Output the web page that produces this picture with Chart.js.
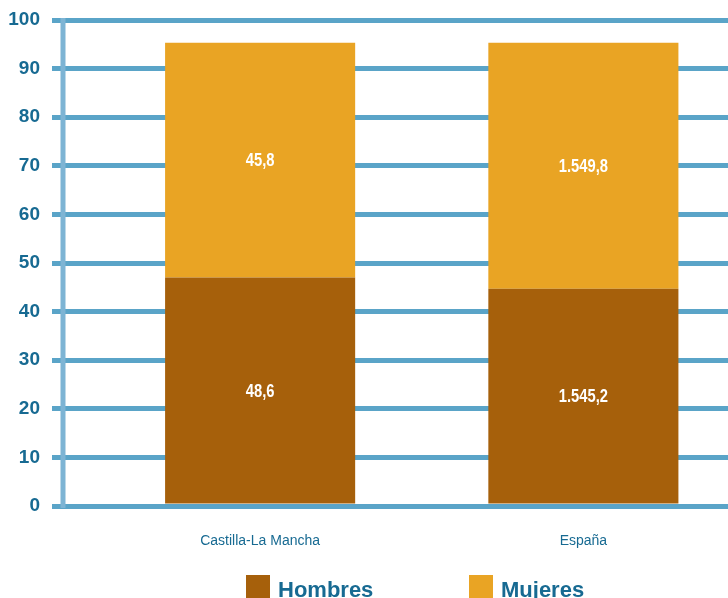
<!DOCTYPE html>
<html>
<head>
<meta charset="utf-8">
<script src="https://cdn.jsdelivr.net/npm/chart.js@4.4.0/dist/chart.umd.min.js"></script>
<style>
  html, body { margin: 0; padding: 0; background: #fff; overflow: hidden; }
  #wrap { position: relative; width: 728px; height: 598px; overflow: hidden; }
  canvas { position: absolute; left: 0; top: 0; }
  .leg { position: absolute; top: 575px; height: 24px; font: bold 22px "Liberation Sans", Arial, sans-serif; color: #176a92; line-height: 24px; white-space: nowrap; }
  .leg i { position: absolute; left: 0; top: 0; width: 24px; height: 24px; }
  .leg span { position: absolute; left: 32px; top: 3px; }
</style>
</head>
<body>
<div id="wrap">
  <canvas id="chart" width="745" height="598"></canvas>
  <div class="leg" style="left:246px"><i style="background:#a6600b"></i><span>Hombres</span></div>
  <div class="leg" style="left:469px"><i style="background:#e9a424"></i><span>Mujeres</span></div>
</div>
<script>
// data
const categories = ['Castilla-La Mancha', 'España'];
const hombres = [47.0, 44.7];
const mujeres = [48.3, 50.6];
const hombresLabels = ['48,6', '1.545,2'];
const mujeresLabels = ['45,8', '1.549,8'];
const yMin = 0, yMax = 100, yStep = 10;

const blueText = '#176a92';
const gridBlue = '#5aa4c8';
const sans = "'Liberation Sans', Arial, sans-serif";

const segLabels = [hombresLabels, mujeresLabels];

// white value labels in the middle of each segment (squeezed to look narrow)
const valueLabels = {
    id: 'valueLabels',
    afterDatasetsDraw(chart) {
        const ctx = chart.ctx;
        chart.data.datasets.forEach((ds, i) => {
            chart.getDatasetMeta(i).data.forEach((bar, j) => {
                ctx.save();
                ctx.translate(bar.x, (bar.y + bar.base) / 2 + 1);
                ctx.scale(0.82, 1);
                ctx.fillStyle = '#fff';
                ctx.font = 'bold 18px ' + sans;
                ctx.textAlign = 'center';
                ctx.textBaseline = 'middle';
                ctx.fillText(segLabels[i][j], 0, 0);
                ctx.restore();
            });
        });
    }
};

// the vertical axis line sits left of the first category
const axisLine = {
    id: 'axisLine',
    beforeDatasetsDraw(chart) {
        const {ctx, chartArea} = chart;
        ctx.save();
        ctx.strokeStyle = '#7db4d4';
        ctx.lineWidth = 5;
        ctx.beginPath();
        ctx.moveTo(63, chartArea.top - 2);
        ctx.lineTo(63, chartArea.bottom + 2);
        ctx.stroke();
        ctx.restore();
    }
};

new Chart(document.getElementById('chart'), {
    type: 'bar',
    data: {
        labels: categories,
        datasets: [
            { label: 'Hombres', data: hombres, backgroundColor: '#a6600b' },
            { label: 'Mujeres', data: mujeres, backgroundColor: '#e9a424' }
        ]
    },
    options: {
        responsive: false,
        animation: false,
        layout: { padding: { top: 20, left: 0, right: 0, bottom: 0 } },
        datasets: { bar: { barPercentage: 0.588, categoryPercentage: 1, borderWidth: 0 } },
        plugins: { legend: { display: false }, tooltip: { enabled: false } },
        scales: {
            x: {
                stacked: true,
                grid: { display: false },
                border: { display: false },
                ticks: { color: blueText, font: { family: sans, size: 14 }, padding: 19, maxRotation: 0 },
                afterFit(scale) { scale.height = 92; }
            },
            y: {
                stacked: true,
                min: yMin,
                max: yMax,
                grid: { color: gridBlue, lineWidth: 5, tickLength: 46.5 },
                border: { display: false },
                ticks: {
                    stepSize: yStep,
                    color: blueText,
                    padding: 12,
                    font: { family: sans, size: 19, weight: 'bold' }
                },
                afterFit(scale) {
                    scale.width = 98.5;
                    scale.paddingTop = 0;
                    scale.paddingBottom = 0;
                }
            }
        }
    },
    plugins: [axisLine, valueLabels]
});
</script>
</body>
</html>
